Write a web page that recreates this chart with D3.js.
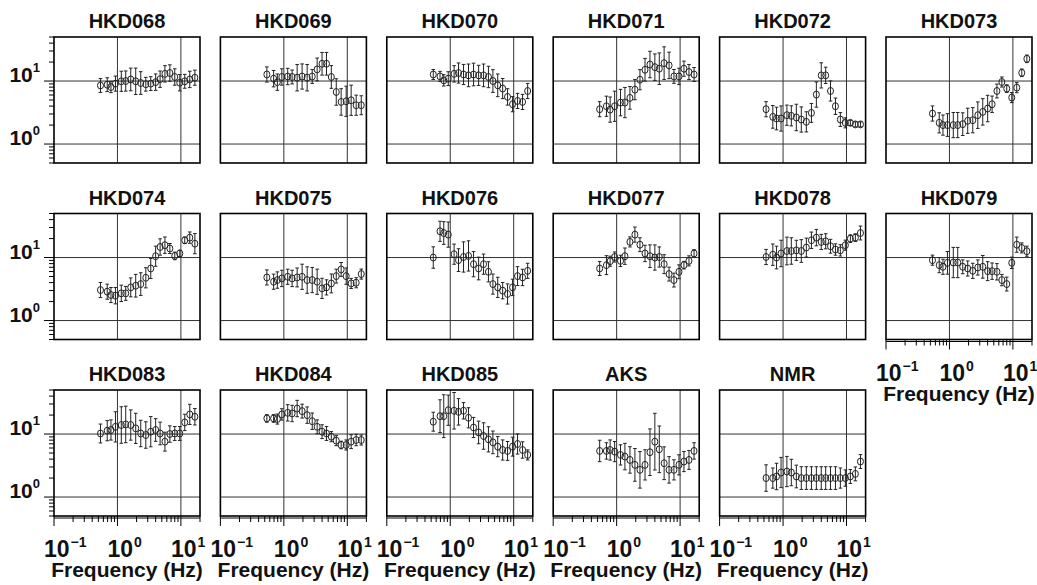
<!DOCTYPE html>
<html>
<head>
<meta charset="utf-8">
<script src="https://cdn.jsdelivr.net/npm/d3@7"></script>
<style>
html,body{margin:0;padding:0;background:#fff;}
svg{display:block;}
text{font-family:"Liberation Sans",Arial,Helvetica,sans-serif;font-weight:bold;fill:#111;}
</style>
</head>
<body>
<svg id="chart" width="1037" height="585"></svg>
<script>
// Shared frequency axis (Hz)
const freqs = [0.54,0.69,0.79,0.93,1.15,1.35,1.62,1.94,2.33,2.8,3.35,4.0,4.7,5.6,6.7,8.0,9.6,11.5,13.8,16.6];

// Station names in drawing order (row by row)
const stations = ["HKD068","HKD069","HKD070","HKD071","HKD072","HKD073",
                  "HKD074","HKD075","HKD076","HKD077","HKD078","HKD079",
                  "HKD083","HKD084","HKD085","AKS","NMR"];

// Amplification values per station
const v068 = [8.5,8.75,8.04,9.1,9.9,10,10.6,9.9,9.3,8.9,9.1,9.6,10.7,13.0,13.4,11.6,9.4,9.9,10.6,11.3];
const v069 = [12.7,10.9,9.6,11.6,11.8,11.6,11.3,11.8,11.3,11.8,15.3,18.8,18.8,11.6,6.7,4.66,4.77,4.95,4.13,4.13];
const v070 = [12.7,11.85,10.25,10.9,13.0,13.4,12.7,12.3,12.7,12.3,12.3,11.6,10,8.55,7.6,5.6,4.29,4.83,4.66,6.95];
const v071 = [3.57,3.98,3.52,3.98,4.55,4.55,5.4,7.3,10.5,15.1,18.3,16.6,15.7,19.2,17.7,11.85,11.85,15.7,13.9,12.7];
const v072 = [3.57,2.7,2.54,2.54,2.87,2.8,2.64,2.45,2.25,3.12,6.1,12.3,12.3,6.95,3.98,2.45,2.17,2.17,2.05,2.05];
const v073 = [3.05,2.17,2.0,2.0,2.0,2.0,2.07,2.34,2.39,2.87,3.24,3.66,4.28,6.95,9.65,7.57,5.46,7.85,13.5,22.5];
const v074 = [3.05,2.87,2.54,2.48,2.7,2.7,3.36,3.57,3.79,4.77,6.7,10.5,14.7,15.7,13.9,10.6,11.6,18.8,20.7,16.6];
const v075 = [4.83,4.13,4.39,4.66,4.95,4.66,4.83,4.95,4.39,4.39,4.13,3.24,3.36,3.88,5.07,6.47,5.07,3.88,3.98,5.46];
const v076 = [10,26.1,24.5,23.1,11.3,9.1,10.2,10.6,7.85,6.7,7.85,5.94,3.79,3.36,2.98,2.64,3.36,5.07,4.83,6.15];
const v077 = [6.7,7.57,8.75,10.2,8.85,10.5,17.7,23.1,16.0,11.6,10.5,10,10.2,7.85,5.46,4.39,5.94,7.57,8.85,11.6];
const v078 = [10.2,11.1,10,11.6,12.7,12.7,13.0,12.7,14.4,18.8,20.7,17.7,18.1,15.1,13.4,13.0,15.7,19.95,20.7,24.5];
const v079 = [9.08,7.57,7.13,8.24,8.33,8.33,7.13,6.7,6.15,6.95,7.13,6.08,6.08,5.94,4.39,3.79,8.24,16.0,14.2,12.6];
const v083 = [10.2,11.3,11.6,13.0,13.9,14.2,13.9,12.3,10.2,9.65,10.9,11.6,10.2,7.57,10,10.2,10.2,15.3,20.5,18.8];
const v084 = [17.7,17.7,17.3,20.5,21.7,21.2,25.4,23.1,19.95,16.0,13.0,10.9,10.2,9.08,7.85,6.7,6.7,7.57,8.04,8.04];
const v085 = [15.7,19.2,19.2,23.9,23.4,22.5,23.4,18.1,12.7,10.6,9.3,8.24,7.38,6.3,5.58,5.39,6.3,6.95,5.58,4.66];
const vAKS = [5.39,5.39,5.58,5.26,4.66,4.39,3.88,3.24,2.7,3.24,5.14,7.57,5.72,3.44,2.7,2.7,3.24,3.66,3.88,5.39];
const vNMR = [2.0,2.0,2.12,2.45,2.54,2.45,2.12,2.0,2.0,2.0,2.0,2.0,2.0,2.0,2.0,2.0,2.0,2.12,2.33,3.66];

// Error half-widths (log10 units)
const e068 = [.11,.11,.09,.12,.16,.16,.18,.21,.18,.11,.11,.13,.13,.13,.13,.13,.13,.11,.13,.12];
const e069 = [.12,.13,.13,.13,.13,.11,.21,.2,.21,.11,.18,.18,.18,.18,.21,.21,.24,.24,.16,.15];
const e070 = [.08,.08,.09,.11,.13,.16,.16,.18,.18,.16,.18,.17,.18,.18,.16,.13,.12,.12,.12,.12];
const e071 = [.12,.16,.2,.24,.21,.24,.18,.16,.16,.18,.21,.21,.25,.26,.21,.11,.13,.12,.12,.11];
const e072 = [.12,.18,.18,.2,.16,.16,.21,.2,.16,.15,.2,.2,.13,.16,.13,.11,.08,.04,.04,.04];
const e073 = [.12,.16,.16,.18,.2,.2,.18,.2,.2,.21,.21,.21,.13,.11,.08,.06,.08,.08,.06,.06];
const e074 = [.12,.12,.12,.13,.13,.11,.15,.18,.18,.16,.16,.16,.13,.13,.08,.06,.05,.05,.09,.16];
const e075 = [.12,.12,.13,.13,.12,.13,.15,.2,.21,.2,.2,.16,.12,.15,.11,.11,.13,.08,.08,.08];
const e076 = [.17,.16,.18,.2,.16,.18,.24,.24,.2,.18,.16,.16,.16,.16,.13,.16,.13,.15,.13,.12];
const e077 = [.11,.15,.08,.08,.09,.13,.08,.12,.11,.13,.18,.2,.16,.15,.11,.11,.11,.06,.08,.06];
const e078 = [.12,.17,.18,.21,.22,.21,.16,.18,.15,.13,.13,.12,.12,.11,.09,.09,.08,.06,.06,.11];
const e079 = [.08,.12,.12,.18,.24,.24,.11,.12,.12,.12,.18,.15,.13,.13,.09,.11,.09,.12,.08,.08];
const e083 = [.15,.16,.16,.24,.29,.29,.24,.24,.21,.21,.24,.18,.18,.15,.13,.11,.11,.13,.16,.13];
const e084 = [.06,.06,.08,.09,.13,.13,.13,.11,.13,.13,.11,.11,.11,.08,.08,.06,.08,.11,.09,.08];
const e085 = [.15,.26,.34,.24,.29,.21,.13,.16,.16,.18,.21,.2,.18,.16,.16,.15,.15,.16,.13,.08];
const eAKS = [.17,.13,.16,.16,.16,.21,.21,.26,.29,.24,.37,.45,.37,.26,.21,.16,.16,.16,.15,.13];
const eNMR = [.21,.16,.21,.24,.24,.21,.18,.18,.18,.18,.18,.18,.18,.18,.18,.16,.13,.11,.11,.11];

const values = [v068,v069,v070,v071,v072,v073,v074,v075,v076,v077,v078,v079,v083,v084,v085,vAKS,vNMR];
const errors = [e068,e069,e070,e071,e072,e073,e074,e075,e076,e077,e078,e079,e083,e084,e085,eAKS,eNMR];

// Axis ticks
const xMajor = [0.1,1,10];
const xMinor = [0.2,0.3,0.4,0.5,0.6,0.7,0.8,0.9,2,3,4,5,6,7,8,9,20];
const xLabels = ["−1","0","1"];
const yMajor = [1,10];
const yMinor = [0.5,0.6,0.7,0.8,0.9,2,3,4,5,6,7,8,9,20,30,40,50];
const yLabels = ["0","1"];
const xTitle = "Frequency (Hz)";

const svg = d3.select("#chart");
const PW = 146, PH = 126;
const x = d3.scaleLog().domain([0.1,20]).range([0,PW]);
const y = d3.scaleLog().domain([0.5,50]).range([PH,0]);
const colStep = 166.4, rowStep = 176.5, left0 = 54, top0 = 37;

stations.forEach((name,i)=>{
  const col = i % 6, row = Math.floor(i/6);
  const g = svg.append("g").attr("transform",`translate(${left0+col*colStep},${top0+row*rowStep})`);
  // title
  g.append("text").attr("x",PW/2).attr("y",-9).attr("text-anchor","middle")
    .style("font-size","20px").text(name);
  // grid lines
  g.selectAll(".gx").data([1,10]).join("line")
    .attr("x1",d=>x(d)).attr("x2",d=>x(d)).attr("y1",0).attr("y2",PH)
    .attr("stroke","#333").attr("stroke-width",1);
  g.selectAll(".gy").data([1,10]).join("line")
    .attr("y1",d=>y(d)).attr("y2",d=>y(d)).attr("x1",0).attr("x2",PW)
    .attr("stroke","#333").attr("stroke-width",1);
  // frame
  g.append("rect").attr("x",0).attr("y",0).attr("width",PW).attr("height",PH)
    .attr("fill","none").attr("stroke","#000").attr("stroke-width",1.6);

  // data
  const pts = freqs.map((f,k)=>({f, v:values[i][k], e:errors[i][k]})).filter(d=>d.v!=null);
  const eb = g.append("g").attr("stroke","#222").attr("stroke-width",1);
  pts.forEach(d=>{
    const lo = d.v/Math.pow(10,d.e), hi = d.v*Math.pow(10,d.e);
    const cx = x(d.f);
    eb.append("line").attr("x1",cx).attr("x2",cx).attr("y1",y(lo)).attr("y2",y(hi));
    eb.append("line").attr("x1",cx-1.8).attr("x2",cx+1.8).attr("y1",y(lo)).attr("y2",y(lo));
    eb.append("line").attr("x1",cx-1.8).attr("x2",cx+1.8).attr("y1",y(hi)).attr("y2",y(hi));
  });
  g.selectAll("ellipse").data(pts).join("ellipse")
    .attr("cx",d=>x(d.f)).attr("cy",d=>y(d.v)).attr("rx",3).attr("ry",3.5)
    .attr("fill","none").attr("stroke","#222").attr("stroke-width",1);

  // y axis on first column
  if (col === 0) {
    g.selectAll(".ymin").data(yMinor).join("line")
      .attr("x1",-5).attr("x2",0).attr("y1",d=>y(d)).attr("y2",d=>y(d))
      .attr("stroke","#000").attr("stroke-width",1);
    g.selectAll(".ymaj").data(yMajor).join("line")
      .attr("x1",-10).attr("x2",0).attr("y1",d=>y(d)).attr("y2",d=>y(d))
      .attr("stroke","#000").attr("stroke-width",1);
    yMajor.forEach((t,k)=>{
      const tx = g.append("text").attr("x",-14).attr("y",y(t)+1).attr("text-anchor","end")
        .style("font-size","21px");
      tx.append("tspan").text("10");
      tx.append("tspan").attr("dy",-10).style("font-size","13px").text(yLabels[k]);
    });
  }
  // x axis on bottom row and on HKD079
  if (row === 2 || i === 11) {
    g.selectAll(".xmin").data(xMinor).join("line")
      .attr("x1",d=>x(d)).attr("x2",d=>x(d)).attr("y1",PH).attr("y2",PH+6)
      .attr("stroke","#000").attr("stroke-width",1);
    g.selectAll(".xmaj").data(xMajor).join("line")
      .attr("x1",d=>x(d)).attr("x2",d=>x(d)).attr("y1",PH).attr("y2",PH+10)
      .attr("stroke","#000").attr("stroke-width",1);
    g.append("line").attr("x1",0).attr("x2",PW).attr("y1",PH+2).attr("y2",PH+2)
      .attr("stroke","#000").attr("stroke-width",1);
    xMajor.forEach((t,k)=>{
      const tx = g.append("text").attr("x",x(t)-10).attr("y",PH+41).attr("text-anchor","start")
        .style("font-size","23px");
      tx.append("tspan").text("10");
      tx.append("tspan").attr("dy",-10).attr("dx",1).style("font-size","14px").text(xLabels[k]);
    });
    g.append("text").attr("x",PW/2).attr("y",PH+61).attr("text-anchor","middle")
      .style("font-size","21px").text(xTitle);
  }
});
</script>
</body>
</html>
